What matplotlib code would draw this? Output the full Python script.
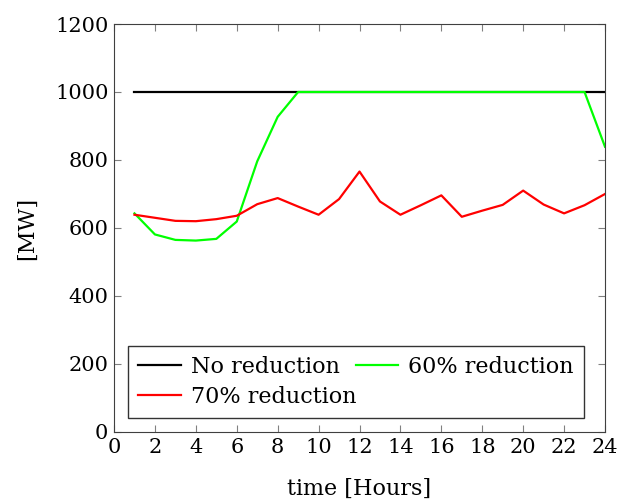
import matplotlib.pyplot as plt

hours = list(range(1, 25))
no_reduction = [1000] * 24
red_60 = [643, 581, 565, 563, 568, 619, 796, 927, 1000, 1000, 1000, 1000,
          1000, 1000, 1000, 1000, 1000, 1000, 1000, 1000, 1000, 1000, 1000, 839]
red_70 = [639, 630, 621, 620, 626, 636, 670, 688, 663, 639, 685, 766,
          678, 639, 667, 696, 633, 651, 668, 710, 669, 643, 667, 700]

plt.rcParams['font.family'] = ['DejaVu Serif']

fig = plt.figure(figsize=(6.2, 4.99), dpi=100)
ax = fig.add_axes([0.1839, 0.1343, 0.7919, 0.8176])

l1, = ax.plot(hours, no_reduction, color="black", linewidth=1.6, label="No reduction")
l2, = ax.plot(hours, red_60, color="#00ff00", linewidth=1.6, label="60% reduction")
l3, = ax.plot(hours, red_70, color="#ff0000", linewidth=1.6, label="70% reduction")

ax.set_xlim(0, 24)
ax.set_ylim(0, 1200)
ax.set_xticks(range(0, 25, 2))
ax.set_yticks(range(0, 1201, 200))
ax.tick_params(direction="in", top=True, right=True, color="#808080",
               length=5, labelsize=15, pad=4)
for s in ax.spines.values():
    s.set_color("#404040")
ax.set_xlabel("time [Hours]", fontsize=16, labelpad=15)
ax.set_ylabel("[MW]", fontsize=16, labelpad=12)

# row-major order like the original: No, 60 / 70
leg = ax.legend([l1, l3, l2], ["No reduction", "70% reduction", "60% reduction"],
                loc="lower left", ncol=2, fontsize=16, frameon=True, fancybox=False,
                edgecolor="black", handlelength=1.9, columnspacing=0.0,
                handletextpad=0.45, borderaxespad=0.65, labelspacing=0.35,
                borderpad=0.45)
leg.get_frame().set_linewidth(1.0)

fig.savefig("out.png", dpi=100)
